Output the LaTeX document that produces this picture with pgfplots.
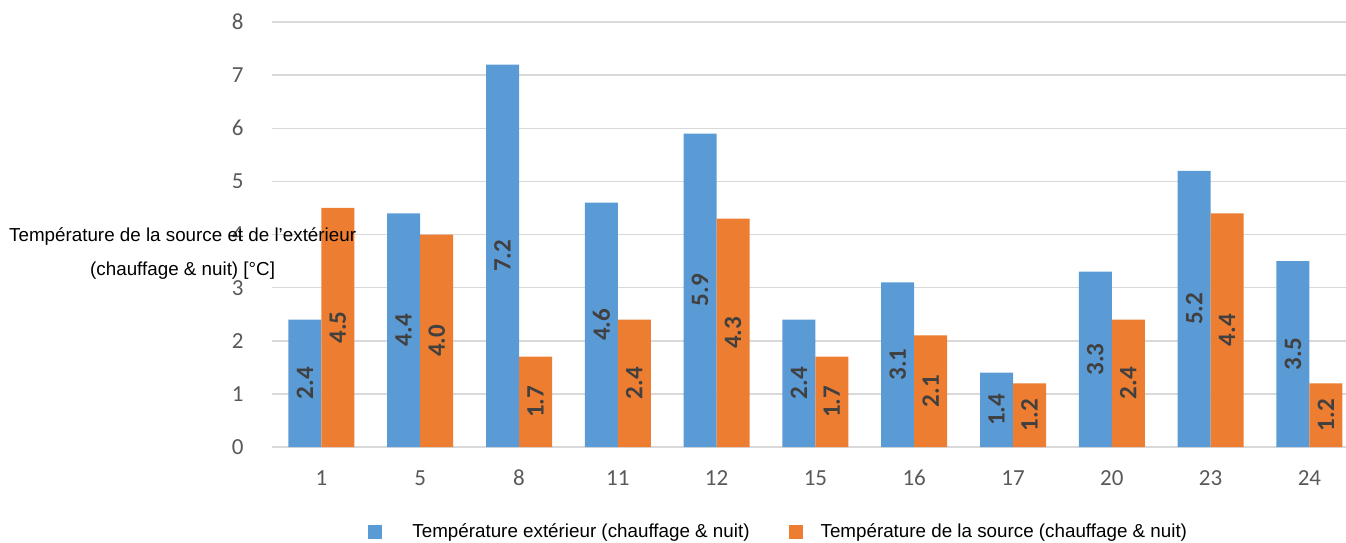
\documentclass[border=0pt]{standalone}
\usepackage{pgfplots}
\pgfplotsset{compat=1.18}
\usepackage{fontspec}
\setmainfont{Liberation Sans}
\newfontfamily\calibri{Carlito}

\definecolor{barblue}{HTML}{5B9BD5}
\definecolor{barorange}{HTML}{ED7D31}
\definecolor{gridgray}{HTML}{D9D9D9}
\definecolor{tickgray}{HTML}{595959}
\definecolor{labelgray}{HTML}{404040}

% square legend swatch followed by a blank gap of the given width
\pgfplotsset{
  squareswatch/.style={legend image code/.code={%
    \fill[##1] (0pt,-3.5pt) rectangle (7pt,3.5pt);
    \path[draw=none,fill=none] (0pt,0pt) rectangle (#1,0.1pt);}},
}

\begin{document}
\begin{tikzpicture}
% page frame: the axis box sits at the origin
\useasboundingbox (-136pt,-47.5pt) rectangle (537pt,223.5pt);
\begin{axis}[
  at={(0pt,0pt)}, anchor=south west,
  scale only axis, width=537pt, height=212.5pt,
  /pgf/number format/assume math mode=true,
  ymin=0, ymax=8, ytick={0,1,...,8},
  xmin=-0.5, xmax=10.37,
  xtick={0,1,...,10},
  xticklabels={1,5,8,11,12,15,16,17,20,23,24},
  ybar=0pt, bar width=16.5pt,
  axis x line*=bottom, axis y line*=left,
  y axis line style={draw=none},
  x axis line style={draw=gridgray, line width=0.75pt},
  major tick length=0pt,
  ymajorgrids, grid style={draw=gridgray, line width=0.75pt},
  ticklabel style={font=\calibri\fontsize{11.5}{13}\selectfont, text=tickgray, inner sep=0pt},
  yticklabel style={anchor=east, xshift=-14pt},
  xticklabel style={anchor=center, yshift=-15.5pt},
  ylabel={Température de la source et de l’extérieur\\(chauffage \& nuit) [°C]},
  ylabel style={rotate=-90, at={(axis description cs:-0.0832,0.456)}, anchor=center,
    align=center, font=\fontsize{9.4}{17}\selectfont, text=black},
  nodes near coords,
  visualization depends on={y \as \rawy},
  nodes near coords style={yshift=-\rawy*13.28125pt, rotate=90, anchor=center,
    font=\calibri\bfseries\fontsize{12.5}{14}\selectfont, text=labelgray,
    /pgf/number format/.cd, fixed, fixed zerofill, precision=1},
  legend columns=2,
  legend style={at={(axis description cs:0.0894,-0.2)}, anchor=west, draw=none,
    fill=none, inner sep=0pt, font=\fontsize{9.4}{11}\selectfont,
    /tikz/every even column/.append style={column sep=17.5pt}},
]
\addplot[fill=barblue, draw=none, squareswatch=20pt] coordinates {
  (0,2.4) (1,4.4) (2,7.2) (3,4.6) (4,5.9) (5,2.4)
  (6,3.1) (7,1.4) (8,3.3) (9,5.2) (10,3.5)};
\addlegendentry{Température extérieur (chauffage \& nuit)}
\addplot[fill=barorange, draw=none, squareswatch=14pt] coordinates {
  (0,4.5) (1,4.0) (2,1.7) (3,2.4) (4,4.3) (5,1.7)
  (6,2.1) (7,1.2) (8,2.4) (9,4.4) (10,1.2)};
\addlegendentry{Température de la source (chauffage \& nuit)}
\end{axis}
\end{tikzpicture}
\end{document}
